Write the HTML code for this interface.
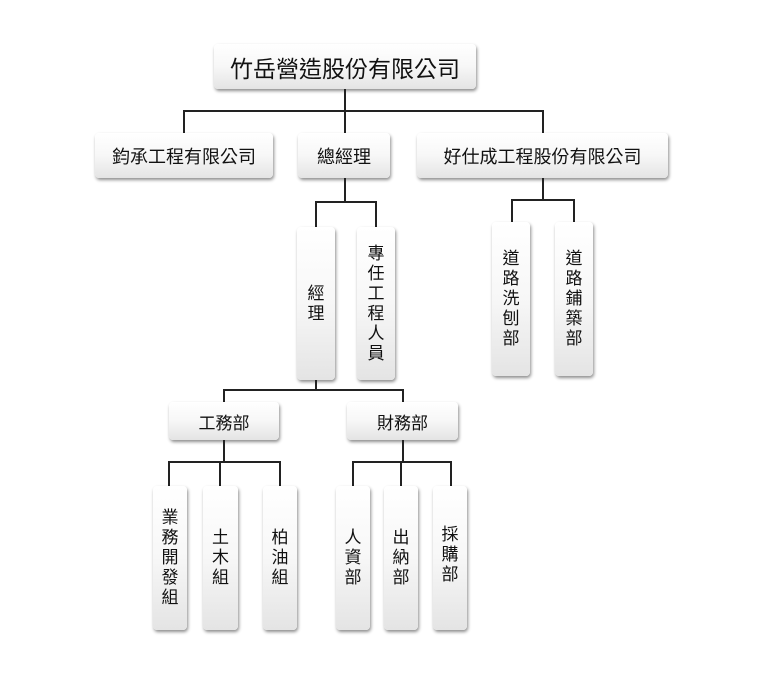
<!DOCTYPE html>
<html><head><meta charset="utf-8"><style>
body{margin:0;width:766px;height:677px;background:#fff;position:relative;overflow:hidden;font-family:"Liberation Sans","Noto Sans CJK TC",sans-serif;}
.b{position:absolute;box-sizing:border-box;border-radius:4px;background:linear-gradient(#fff 0%,#f7f7f7 50%,#e4e4e4 100%);box-shadow:1px 2px 3px rgba(0,0,0,.45);display:flex;align-items:center;justify-content:center;color:#111;font-size:18px;}
.v{flex-direction:column;line-height:20px;font-size:17px;text-align:center;}
.l{position:absolute;background:#222;}
</style></head><body>
<div class="b" style="left:214px;top:44px;width:262px;height:45px;font-size:23px;">竹岳營造股份有限公司</div>
<div class="b" style="left:95px;top:133px;width:178px;height:45px">鈞承工程有限公司</div>
<div class="b" style="left:298px;top:133px;width:92px;height:45px">總經理</div>
<div class="b" style="left:417px;top:133px;width:251px;height:45px">好仕成工程股份有限公司</div>
<div class="l" style="left:344px;top:89px;width:2px;height:23px"></div>
<div class="l" style="left:183px;top:110px;width:361px;height:2px"></div>
<div class="l" style="left:183px;top:110px;width:2px;height:23px"></div>
<div class="l" style="left:344px;top:110px;width:2px;height:23px"></div>
<div class="l" style="left:542px;top:110px;width:2px;height:23px"></div>
<div class="l" style="left:344px;top:178px;width:2px;height:24px"></div>
<div class="l" style="left:315px;top:201px;width:62px;height:2px"></div>
<div class="l" style="left:315px;top:201px;width:2px;height:26px"></div>
<div class="l" style="left:375px;top:201px;width:2px;height:26px"></div>
<div class="b v" style="left:297px;top:227px;width:38px;height:153px">經<br>理</div>
<div class="b v" style="left:357px;top:227px;width:38px;height:153px">專<br>任<br>工<br>程<br>人<br>員</div>
<div class="l" style="left:542px;top:178px;width:2px;height:22px"></div>
<div class="l" style="left:511px;top:199px;width:64px;height:2px"></div>
<div class="l" style="left:511px;top:199px;width:2px;height:23px"></div>
<div class="l" style="left:573px;top:199px;width:2px;height:23px"></div>
<div class="b v" style="left:492px;top:222px;width:38px;height:154px">道<br>路<br>洗<br>刨<br>部</div>
<div class="b v" style="left:555px;top:222px;width:38px;height:154px">道<br>路<br>鋪<br>築<br>部</div>
<div class="l" style="left:315px;top:380px;width:2px;height:11px"></div>
<div class="l" style="left:223px;top:389px;width:181px;height:2px"></div>
<div class="l" style="left:223px;top:389px;width:2px;height:14px"></div>
<div class="l" style="left:402px;top:389px;width:2px;height:14px"></div>
<div class="b" style="left:169px;top:402px;width:110px;height:38px;font-size:17px">工務部</div>
<div class="b" style="left:347px;top:402px;width:111px;height:38px;font-size:17px">財務部</div>
<div class="l" style="left:223px;top:440px;width:2px;height:22px"></div>
<div class="l" style="left:168px;top:461px;width:113px;height:2px"></div>
<div class="l" style="left:168px;top:461px;width:2px;height:25px"></div>
<div class="l" style="left:219px;top:461px;width:2px;height:25px"></div>
<div class="l" style="left:279px;top:461px;width:2px;height:25px"></div>
<div class="l" style="left:402px;top:440px;width:2px;height:22px"></div>
<div class="l" style="left:352px;top:461px;width:100px;height:2px"></div>
<div class="l" style="left:352px;top:461px;width:2px;height:25px"></div>
<div class="l" style="left:400px;top:461px;width:2px;height:25px"></div>
<div class="l" style="left:450px;top:461px;width:2px;height:25px"></div>
<div class="b v" style="left:153px;top:486px;width:34px;height:144px">業<br>務<br>開<br>發<br>組</div>
<div class="b v" style="left:203px;top:486px;width:35px;height:144px">土<br>木<br>組</div>
<div class="b v" style="left:263px;top:486px;width:34px;height:144px;justify-content:flex-start;padding-top:42px">柏<br>油<br>組</div>
<div class="b v" style="left:336px;top:486px;width:34px;height:144px">人<br>資<br>部</div>
<div class="b v" style="left:384px;top:486px;width:34px;height:144px;justify-content:flex-start;padding-top:42px">出<br>納<br>部</div>
<div class="b v" style="left:433px;top:486px;width:34px;height:144px;justify-content:flex-start;padding-top:39px">採<br>購<br>部</div>
</body></html>
